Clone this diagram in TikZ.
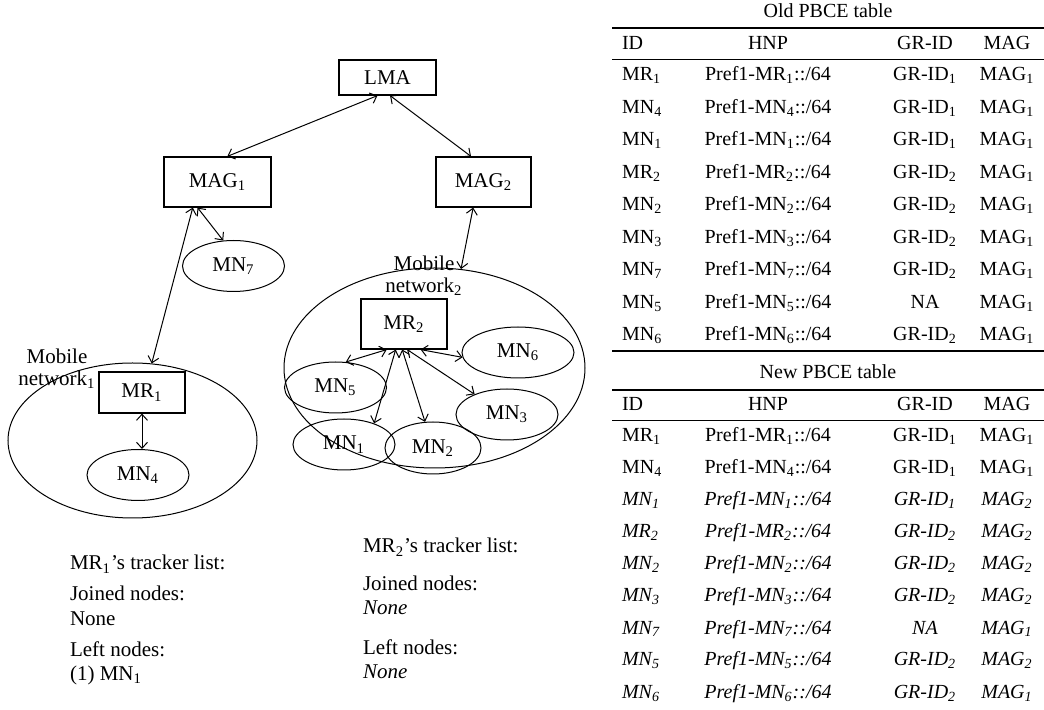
\documentclass[tikz,border=0pt]{standalone}
\usepackage{fontspec}
\setmainfont{Liberation Serif}
\usetikzlibrary{arrows.meta, shapes.geometric, positioning}
\newcommand{\sbs}[1]{\textsubscript{#1}}

\begin{document}
\begin{tikzpicture}[x=0.5pt, y=-0.5pt, font=\fontsize{10.5}{11}\selectfont,
    box/.style 2 args={draw, line width=0.6pt, minimum width=#1, minimum height=#2, inner sep=0pt},
    mn/.style={ellipse, draw, line width=0.5pt, inner sep=0pt, minimum width=51pt, minimum height=25.5pt},
    net/.style 2 args={ellipse, draw, line width=0.5pt, minimum width=#1, minimum height=#2},
    link/.style={>={Straight Barb[length=3pt,width=5.5pt]}, <->, line width=0.5pt},
    cell/.style={anchor=base, font=\fontsize{10}{12}\selectfont},
    rule/.style={line width=0.6pt}]

    \useasboundingbox (0,0) rectangle (1044,710);

    % Mobile networks
    \node[net={124.5pt}{77.5pt}] (net1) at (132.5,440.5) {};
    \node[net={150.5pt}{100pt}] (net2) at (434.5,368) {};
    \node[align=center] (lbl1) at (57,369) {Mobile\\network\sbs{1}};
    \node[align=center] (lbl2) at (424,276) {Mobile\\network\sbs{2}};

    % LMA and MAGs
    \node[box={48.5pt}{17.5pt}] (lma) at (387.5,77.5) {LMA};
    \node[box={53.5pt}{25pt}] (mag1) at (217.5,182) {MAG\sbs{1}};
    \node[box={47.5pt}{25pt}] (mag2) at (483.5,182) {MAG\sbs{2}};

    % routers and nodes
    \node[box={43pt}{20.5pt}] (mr1) at (142,392.5) {MR\sbs{1}};
    \node[box={43pt}{25pt}] (mr2) at (404,324) {MR\sbs{2}};
    \node[mn] (mn7) at (233.5,266) {MN\sbs{7}};
    \node[mn] (mn4) at (138,475) {MN\sbs{4}};
    \node[mn, minimum width=56pt] (mn6) at (518,352.5) {MN\sbs{6}};
    \node[mn] (mn5) at (335.5,387.5) {MN\sbs{5}};
    \node[mn] (mn3) at (507,414.5) {MN\sbs{3}};
    \node[mn] (mn1) at (344,444.5) {MN\sbs{1}};
    \node[mn, minimum width=48pt, minimum height=26pt] (mn2) at (433,448) {MN\sbs{2}};

    % links
    \draw[link] (lma.241) -- (mag1.69);
    \draw[link] (lma.278) -- (mag2.116);
    \draw[link] (mag1.232) -- (mn7.112);
    \draw[link] (mag1.226) -- (net1.76);
    \draw[link] (mr1.south) -- (mr1.south |- mn4.north);
    \draw[link] (mag2.248) -- (net2.75);
    \draw[link] (mr2.236) -- (mn5.68);
    \draw[link] (mr2.252) -- (mn1.35);
    \draw[link] (mr2.266) -- (mn2.107);
    \draw[link] (mr2.277) -- (mn3.148);
    \draw[link] (mr2.303) -- (mn6.185);

    % tracker lists
    \node[anchor=base west] (trk1) at (63,570) {MR\sbs{1}'s tracker list:};
    \node[anchor=base west] (join1) at (63,601) {Joined nodes:};
    \node[anchor=base west] (none1) at (63,625) {None};
    \node[anchor=base west] (left1) at (63,656) {Left nodes:};
    \node[anchor=base west] (gone1) at (63,680) {(1) MN\sbs{1}};
    \node[anchor=base west] (trk2) at (356,553) {MR\sbs{2}'s tracker list:};
    \node[anchor=base west] (join2) at (356,591) {Joined nodes:};
    \node[anchor=base west] (none2) at (356,615) {\itshape None};
    \node[anchor=base west] (left2) at (356,654) {Left nodes:};
    \node[anchor=base west] (gone2) at (356,678) {\itshape None};

    % old PBCE table
    \node[cell] (oldtitle) at (828,18) {Old PBCE table};
    \draw[rule] (612,28) -- (1044,28);
    \node[cell, anchor=base west] (oldid) at (615,50) {ID};
    \node[cell] (oldhnp) at (768,50) {HNP};
    \node[cell] (oldgr) at (925,50) {GR-ID};
    \node[cell] (oldmag) at (1007,50) {MAG};
    \draw[line width=0.4pt] (612,59) -- (1044,59);
    \foreach \id/\gr/\mg [count=\r] in {MR\sbs{1}/GR-ID\sbs{1}/1, MN\sbs{4}/GR-ID\sbs{1}/1,
        MN\sbs{1}/GR-ID\sbs{1}/1, MR\sbs{2}/GR-ID\sbs{2}/1, MN\sbs{2}/GR-ID\sbs{2}/1,
        MN\sbs{3}/GR-ID\sbs{2}/1, MN\sbs{7}/GR-ID\sbs{2}/1, MN\sbs{5}/NA/1, MN\sbs{6}/GR-ID\sbs{2}/1} {
      \pgfmathsetmacro\yy{81+(\r-1)*32.5}
      \node[cell, anchor=base west] (old-id-\r) at (615,\yy) {\id};
      \node[cell] (old-hnp-\r) at (768,\yy) {Pref1-\id::/64};
      \node[cell] (old-gr-\r) at (925,\yy) {\gr};
      \node[cell] (old-mag-\r) at (1007,\yy) {MAG\sbs{\mg}};
    }
    \draw[rule] (612,351) -- (1044,351);

    % new PBCE table
    \node[cell] (newtitle) at (828,379) {New PBCE table};
    \draw[rule] (612,390) -- (1044,390);
    \node[cell, anchor=base west] (newid) at (615,411) {ID};
    \node[cell] (newhnp) at (768,411) {HNP};
    \node[cell] (newgr) at (925,411) {GR-ID};
    \node[cell] (newmag) at (1007,411) {MAG};
    \draw[line width=0.4pt] (612,420) -- (1044,420);
    \foreach \id/\gr/\mg/\sh [count=\r] in {MR\sbs{1}/GR-ID\sbs{1}/1/\upshape, MN\sbs{4}/GR-ID\sbs{1}/1/\upshape,
        MN\sbs{1}/GR-ID\sbs{1}/2/\itshape, MR\sbs{2}/GR-ID\sbs{2}/2/\itshape, MN\sbs{2}/GR-ID\sbs{2}/2/\itshape,
        MN\sbs{3}/GR-ID\sbs{2}/2/\itshape, MN\sbs{7}/NA/1/\itshape, MN\sbs{5}/GR-ID\sbs{2}/2/\itshape,
        MN\sbs{6}/GR-ID\sbs{2}/1/\itshape} {
      \pgfmathsetmacro\yy{442+(\r-1)*32}
      \node[cell, anchor=base west] (new-id-\r) at (615,\yy) {\sh\id};
      \node[cell] (new-hnp-\r) at (768,\yy) {\sh Pref1-\id::/64};
      \node[cell] (new-gr-\r) at (925,\yy) {\sh\gr};
      \node[cell] (new-mag-\r) at (1007,\yy) {\sh MAG\sbs{\mg}};
    }

\end{tikzpicture}
\end{document}
